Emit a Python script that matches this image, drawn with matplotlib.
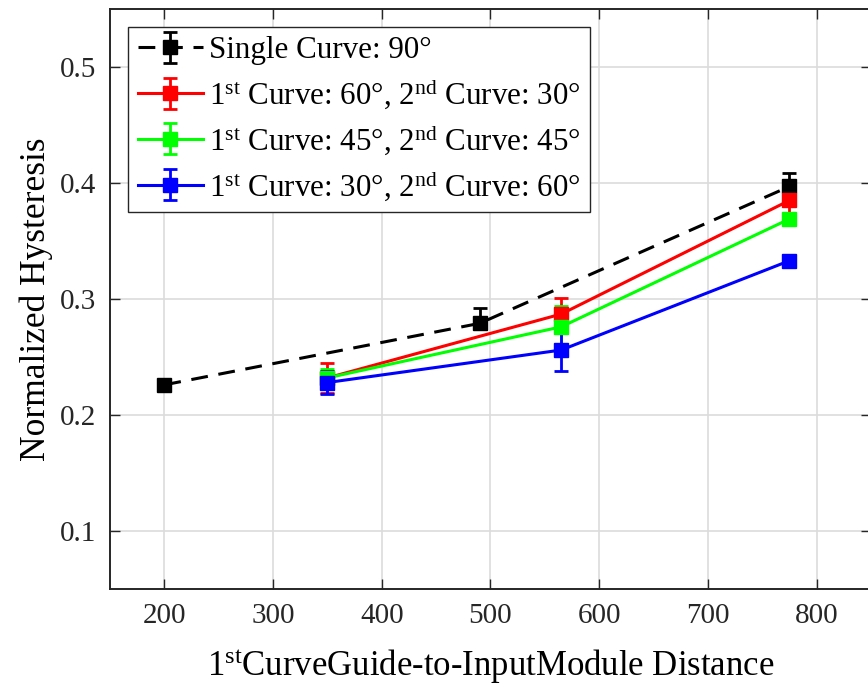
import matplotlib
matplotlib.use("Agg")
import matplotlib.pyplot as plt

plt.rcParams['font.family'] = ['Liberation Serif', 'DejaVu Serif']
plt.rcParams['mathtext.fontset'] = 'custom'
plt.rcParams['mathtext.rm'] = 'Liberation Serif'
plt.rcParams['mathtext.it'] = 'Liberation Serif'

# Data
x_single = [200, 490, 775]
y_single = [0.226, 0.279, 0.397]
e_single_lo = [0.003, 0.004, 0.006]
e_single_hi = [0.003, 0.013, 0.012]

x_multi = [350, 565, 775]
y_60_30 = [0.232, 0.287, 0.385]
e_60_30 = [0.013, 0.014, 0.012]
y_45_45 = [0.232, 0.276, 0.369]
e_45_45 = [0.008, 0.018, 0.003]
y_30_60 = [0.228, 0.256, 0.333]
e_30_60 = [0.010, 0.018, 0.003]

labels = ['Single Curve: 90°',
          r'1$^{\rm st}$ Curve: 60°, 2$^{\rm nd}$ Curve: 30°',
          r'1$^{\rm st}$ Curve: 45°, 2$^{\rm nd}$ Curve: 45°',
          r'1$^{\rm st}$ Curve: 30°, 2$^{\rm nd}$ Curve: 60°']
colors = ['#000000', '#ff0000', '#00ff00', '#0000ff']

xticks = [200, 300, 400, 500, 600, 700, 800]
yticks = [0.1, 0.2, 0.3, 0.4, 0.5]

fig = plt.figure(figsize=(8.68, 6.9), dpi=100)
ax = fig.add_axes([110/868, 101/690, 761/868, 580/690])

common = dict(marker='s', markersize=10, capsize=5, elinewidth=2.0,
              capthick=2.0, linewidth=2.2)

ax.errorbar(x_single, y_single, yerr=[e_single_lo, e_single_hi], color=colors[0],
            linestyle=(0, (5.5, 3.5)), label=labels[0], **common)
ax.errorbar(x_multi, y_60_30, yerr=e_60_30, color=colors[1],
            label=labels[1], **common)
ax.errorbar(x_multi, y_45_45, yerr=e_45_45, color=colors[2],
            label=labels[2], **common)
ax.errorbar(x_multi, y_30_60, yerr=e_30_60, color=colors[3],
            label=labels[3], **common)

ax.set_xlim(150, 850)
ax.set_ylim(0.05, 0.55)
ax.set_xticks(xticks)
ax.set_yticks(yticks)
ax.set_xticklabels([str(v) for v in xticks])
ax.set_yticklabels([f'{v:.1f}' for v in yticks])

ax.grid(True, color='#dcdcdc', linewidth=1.2)
ax.set_axisbelow(True)
ax.tick_params(direction='in', length=7, width=1.0, colors='#262626',
               top=True, right=True, labelsize=21, pad=10)
for sp in ax.spines.values():
    sp.set_color('#262626')
    sp.set_linewidth(1.4)

ax.set_xlabel(r'1$^{\rm st}$CurveGuide-to-InputModule Distance', fontsize=25,
              labelpad=13)
ax.set_ylabel('Normalized Hysteresis', fontsize=25.5, labelpad=5)

leg = ax.legend(loc='upper left', bbox_to_anchor=(0.024, 0.969), fontsize=22.3,
                frameon=True, fancybox=False, framealpha=1, edgecolor='#262626',
                handlelength=2.1, handletextpad=0.2, borderpad=0.3,
                labelspacing=0.35, borderaxespad=0)
leg.get_frame().set_linewidth(1.0)

fig.savefig('out.png', dpi=100)
